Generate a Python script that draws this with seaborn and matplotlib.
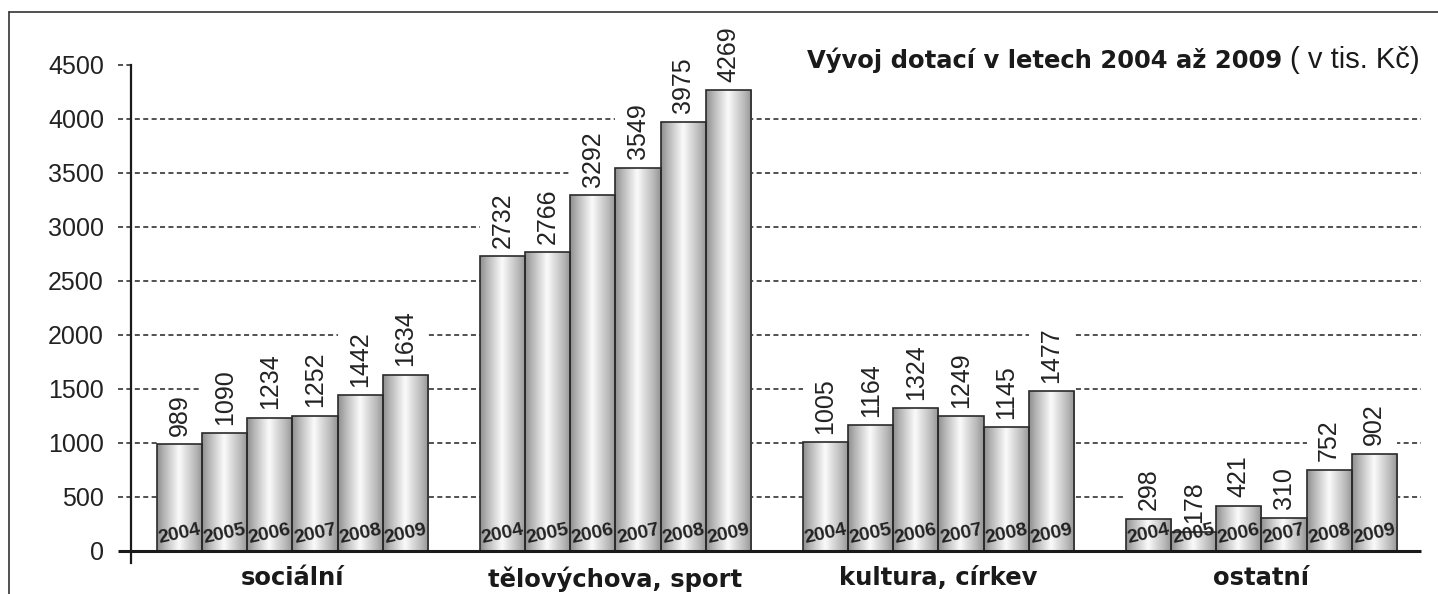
import numpy as np
import pandas as pd
import matplotlib
matplotlib.use('Agg')
import matplotlib.pyplot as plt
from matplotlib.colors import LinearSegmentedColormap
from matplotlib.patches import Rectangle
from matplotlib.lines import Line2D
import seaborn as sns

# data (v tis. Kč)
kategorie = ['sociální', 'tělovýchova, sport', 'kultura, církev', 'ostatní']
roky = ['2004', '2005', '2006', '2007', '2008', '2009']
socialni = [989, 1090, 1234, 1252, 1442, 1634]
telovychova = [2732, 2766, 3292, 3549, 3975, 4269]
kultura = [1005, 1164, 1324, 1249, 1145, 1477]
ostatni = [298, 178, 421, 310, 752, 902]
yticks = [0, 500, 1000, 1500, 2000, 2500, 3000, 3500, 4000, 4500]

hodnoty = [socialni, telovychova, kultura, ostatni]
df = pd.DataFrame({
    'kategorie': np.repeat(kategorie, len(roky)),
    'rok': roky * len(kategorie),
    'dotace': socialni + telovychova + kultura + ostatni,
})

sns.set_style('white')
plt.rcParams['font.family'] = ['Liberation Sans', 'DejaVu Sans']

W, H = 1438, 594
fig = plt.figure(figsize=(W / 100, H / 100), dpi=100)
ax = fig.add_axes([131 / W, 1 - 563.4 / H, 1290 / W, (563.4 - 65) / H])

sns.barplot(data=df, x='kategorie', y='dotace', hue='rok', order=kategorie,
            hue_order=roky, palette=['#cccccc'] * 6, width=0.839, gap=0,
            edgecolor='#2a2a2a', linewidth=1.2, legend=False, ax=ax, zorder=3)

# cylinder-like gray gradient inside each bar
cmap = LinearSegmentedColormap.from_list('valec', [
    (0, '#8e8e8e'), (0.15, '#b4b4b4'), (0.48, '#fbfbfb'), (0.85, '#b6b6b6'), (1, '#939393')])
grad = np.linspace(0, 1, 256).reshape(1, -1)
for cont in ax.containers:
    for bar in cont:
        x, y, w, h = bar.get_x(), bar.get_y(), bar.get_width(), bar.get_height()
        im = ax.imshow(grad, cmap=cmap, extent=[x, x + w, y, y + h], aspect='auto',
                       zorder=2.5, interpolation='bicubic')
        im.set_clip_path(bar)
        bar.set_facecolor('none')

ax.set_xlim(-0.5, 3.494)
ax.set_ylim(-115, 4500)

# dashed gridlines (with the short dash left of the axis as tick)
dash = (0, (3.3, 2.2))
ax.hlines(yticks[1:-1], -0.0101, 1, transform=ax.get_yaxis_transform(), colors='#222222',
          linestyles=dash, lw=1.1, zorder=1, clip_on=False)
ax.hlines([4500], -0.0101, 0, transform=ax.get_yaxis_transform(), colors='#222222',
          linestyles=dash, lw=1.1, zorder=1, clip_on=False)
ax.hlines([0], -0.0101, 1, transform=ax.get_yaxis_transform(), colors='#1a1a1a',
          lw=2.2, zorder=4, clip_on=False)

for s in ['top', 'right', 'bottom']:
    ax.spines[s].set_visible(False)
ax.spines['left'].set_color('#1a1a1a')
ax.spines['left'].set_linewidth(1.6)

ax.set_yticks(yticks)
ax.tick_params(axis='y', length=0, pad=19.5, labelsize=18, labelcolor='#222222')
ax.set_xticks(range(len(kategorie)), kategorie)
ax.tick_params(axis='x', length=0, pad=2, labelcolor='#1a1a1a')
for t in ax.get_xticklabels():
    t.set_fontweight('bold')
    t.set_fontsize(17.5)
    t.set_family('DejaVu Sans')
ax.set_xlabel('')
ax.set_ylabel('')

popisky = []
for j, cont in enumerate(ax.containers):
    for i, bar in enumerate(cont):
        v = hodnoty[i][j]
        cx = bar.get_x() + bar.get_width() / 2
        a = ax.annotate(str(v), (cx, v), xytext=(0, 6), textcoords='offset points',
                        rotation=90, ha='center', va='bottom', fontsize=18,
                        color='#222222', zorder=5)
        popisky.append((a, bar, v))
        ax.annotate(roky[j], (cx, 0), xytext=(0, 12), textcoords='offset points',
                    rotation=12, rotation_mode='anchor', ha='center', va='center',
                    fontsize=14, fontweight='bold', color='#222222', zorder=5)

# title: bold part, then the unit in regular weight
ty = 1 - 68 / H
t1 = fig.text(807 / W, ty, 'Vývoj dotací v letech 2004 až 2009', ha='left', va='baseline',
              fontsize=17.5, fontweight='bold', color='#1a1a1a', family='DejaVu Sans')
fig.canvas.draw()
r = fig.canvas.get_renderer()
x1 = t1.get_window_extent(r).x1
fig.text((x1 + 8) / W, ty, '( v tis. Kč)', ha='left', va='baseline', fontsize=21,
         color='#1a1a1a')

# white column behind each value label, cutting the gridlines
inv = ax.transData.inverted()
for a, bar, v in popisky:
    bb = a.get_window_extent(r)
    top = inv.transform((0, bb.y1 + 2))[1]
    ax.add_patch(Rectangle((bar.get_x(), v), bar.get_width(), top - v,
                           facecolor='white', edgecolor='none', zorder=1.5))

# outer frame
fig.add_artist(Line2D([9 / W, 9 / W], [0, 1 - 12 / H], transform=fig.transFigure,
                      color='#333333', lw=1.2))
fig.add_artist(Line2D([9 / W, 1], [1 - 12 / H, 1 - 12 / H], transform=fig.transFigure,
                      color='#333333', lw=1.2))

fig.savefig('out.png', dpi=100)
